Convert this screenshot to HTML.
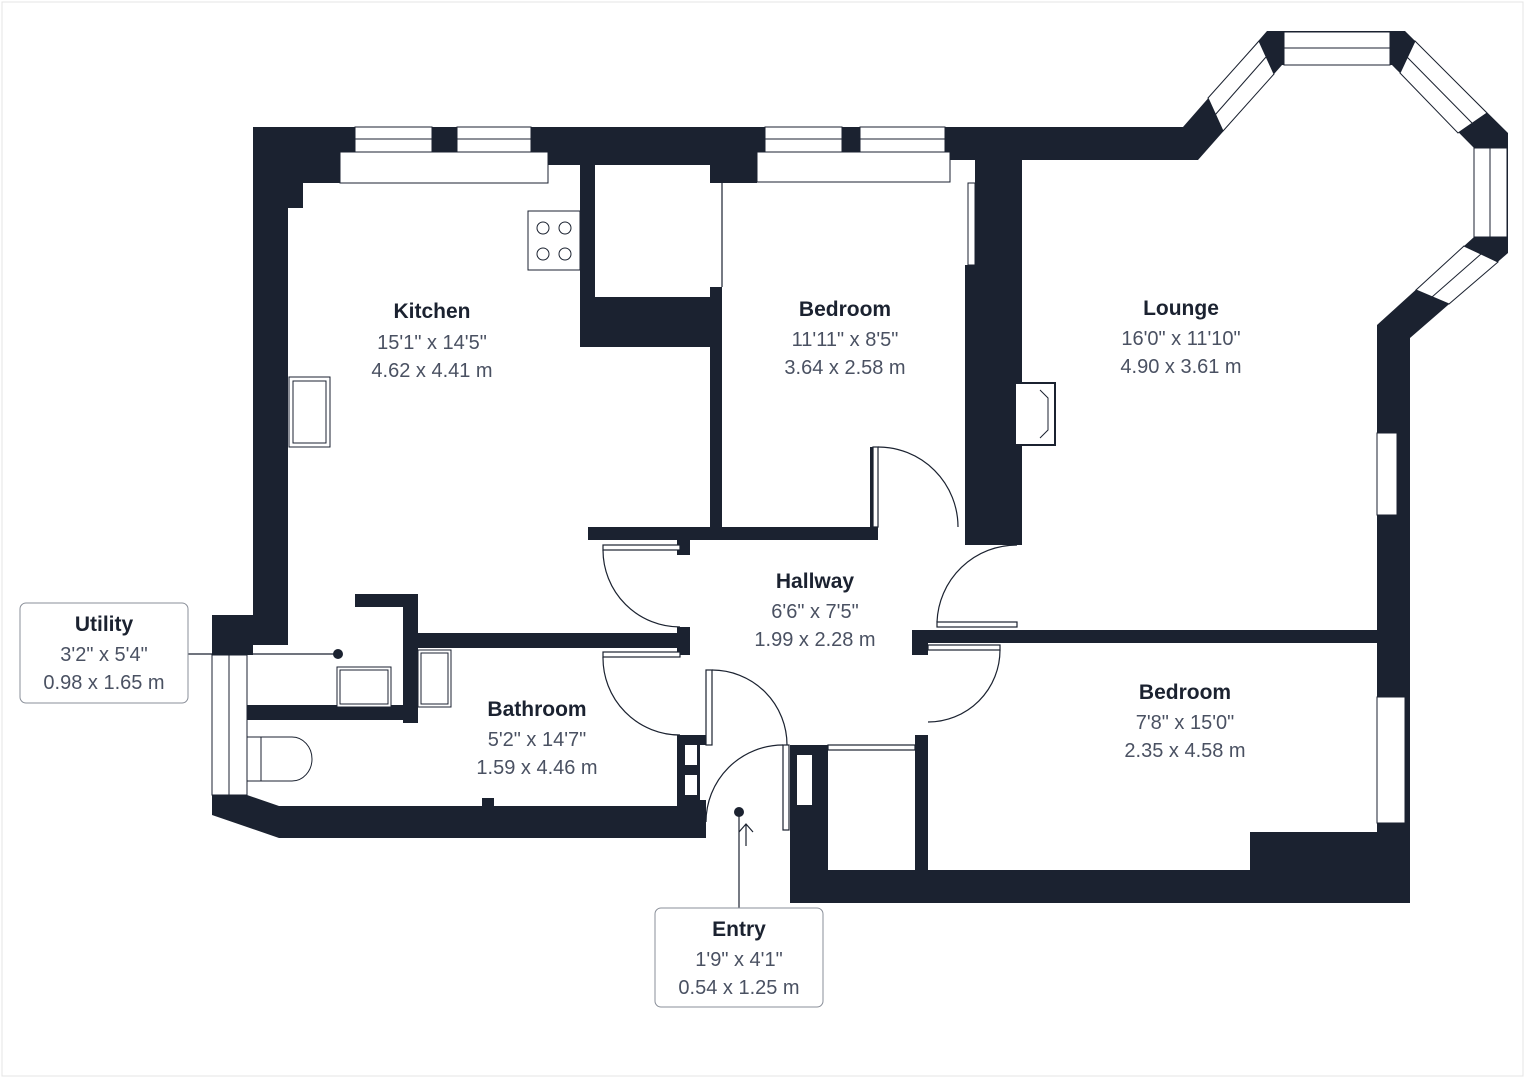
<!DOCTYPE html>
<html><head><meta charset="utf-8"><style>
html,body{margin:0;padding:0;background:#fff;}
svg{display:block;}
.t{font-family:"Liberation Sans",sans-serif;fill:#1b2230;font-weight:bold;font-size:21px;text-anchor:middle;}
.d{font-family:"Liberation Sans",sans-serif;fill:#4a5162;font-size:20px;text-anchor:middle;}
</style></head><body>
<svg width="1527" height="1080" viewBox="0 0 1527 1080" xmlns="http://www.w3.org/2000/svg">
<rect x="2" y="2" width="1521" height="1074" fill="#fff" stroke="#e4e4e4"/>
<g fill="#1b2230">
<rect x="253" y="127" width="937" height="28"/>
<rect x="253" y="155" width="87" height="28"/>
<rect x="548" y="155" width="47" height="10"/>
<rect x="595" y="155" width="127" height="10"/>
<rect x="710" y="155" width="47" height="28"/>
<rect x="950" y="155" width="72" height="5"/>
<rect x="1022" y="155" width="176" height="5"/>
<rect x="253" y="127" width="35" height="518"/>
<rect x="288" y="183" width="15" height="25"/>
<rect x="580" y="165" width="15" height="132"/>
<rect x="580" y="297" width="130" height="50"/>
<rect x="710" y="287" width="12" height="240"/>
<rect x="975" y="160" width="47" height="385"/>
<rect x="965" y="265" width="12" height="280"/>
<rect x="1377" y="325" width="33" height="578"/>
<rect x="790" y="870" width="620" height="33"/>
<rect x="1250" y="832" width="160" height="40"/>
<rect x="912" y="630" width="468" height="13"/>
<rect x="912" y="630" width="16" height="25"/>
<rect x="915" y="735" width="13" height="135"/>
<rect x="790" y="745" width="35" height="158"/>
<rect x="820" y="745" width="8" height="125"/>
<rect x="588" y="527" width="282" height="13"/>
<rect x="870" y="447" width="8" height="93"/>
<rect x="677" y="540" width="13" height="15"/>
<rect x="677" y="627" width="13" height="28"/>
<rect x="415" y="633" width="275" height="15"/>
<rect x="355" y="594" width="63" height="13"/>
<rect x="403" y="594" width="15" height="129"/>
<rect x="212" y="705" width="206" height="15"/>
<rect x="212" y="615" width="41" height="40"/>
<polygon points="212,795 247,795 279,806 706,806 706,838 279,838 212,815"/>
<rect x="677" y="735" width="29" height="103"/>
<rect x="482" y="798" width="12" height="10"/>
<polygon points="1183,127 1267,31 1405,31 1508,133 1508,253 1410,338 1410,360 1377,360 1377,325 1474,237 1474,148 1392,65 1282,65 1198,160 1183,160"/>
</g>
<g fill="#fff">
<rect x="700" y="745" width="6" height="55"/>
<rect x="797" y="755" width="15" height="50"/>
<rect x="685" y="745" width="12" height="20"/>
<rect x="685" y="775" width="12" height="20"/>
</g>
<g fill="#fff" stroke="#1b2230" stroke-width="1">
<rect x="355" y="127" width="77" height="25"/><line x1="355" y1="139" x2="432" y2="139"/>
<rect x="457" y="127" width="74" height="25"/><line x1="457" y1="139" x2="531" y2="139"/>
<rect x="340" y="152" width="208" height="31"/>
<rect x="765" y="127" width="77" height="25"/><line x1="765" y1="139" x2="842" y2="139"/>
<rect x="860" y="127" width="85" height="25"/><line x1="860" y1="139" x2="945" y2="139"/>
<rect x="757" y="152" width="193" height="30"/>
<rect x="968" y="183" width="7" height="82"/>
<rect x="1284" y="32" width="106" height="33"/><line x1="1284" y1="48" x2="1390" y2="48"/>
<rect x="1474" y="148" width="33" height="89"/><line x1="1490" y1="148" x2="1490" y2="237"/>
<polygon points="1208,98 1259,41 1274,74 1223,131"/><line x1="1215" y1="115" x2="1266" y2="57"/>
<polygon points="1415,41 1487,113 1458,133 1400,73"/><line x1="1407" y1="57" x2="1472" y2="123"/>
<polygon points="1498,262 1449,304 1416,290 1464,246"/><line x1="1481" y1="254" x2="1432" y2="297"/>
<rect x="1377" y="433" width="20" height="82"/>
<rect x="1377" y="697" width="28" height="126"/>
<rect x="212" y="655" width="35" height="140"/><line x1="229" y1="655" x2="229" y2="795"/>
<rect x="1015" y="383" width="40" height="62" stroke-width="2"/>
<path d="M1040,390 L1048,398 V430 L1040,438" fill="none"/>
<rect x="528" y="211" width="52" height="59"/>
<circle cx="543" cy="228" r="6"/><circle cx="565" cy="228" r="6"/><circle cx="543" cy="254" r="6"/><circle cx="565" cy="254" r="6"/>
<rect x="289" y="377" width="41" height="70"/><rect x="293" y="381" width="33" height="62"/>
<rect x="418" y="650" width="33" height="57"/><rect x="421" y="653" width="27" height="51"/>
<rect x="337" y="667" width="54" height="40"/><rect x="340" y="670" width="48" height="34"/>
<path d="M247,781 L292,781 A20,22 0 0 0 292,737 L247,737 Z"/><line x1="261" y1="737" x2="261" y2="781"/>
</g>
<g fill="none" stroke="#1b2230" stroke-width="1.2">
<rect x="873" y="447" width="5" height="80" fill="#fff"/>
<path d="M878,447 A80,80 0 0 1 958,527"/>
<rect x="937" y="622" width="80" height="5" fill="#fff"/>
<path d="M937,622 A80,80 0 0 1 1017,545"/>
<rect x="603" y="545" width="77" height="5" fill="#fff"/>
<path d="M603,550 A77,77 0 0 0 680,627"/>
<rect x="603" y="652" width="77" height="5" fill="#fff"/>
<path d="M603,657 A77,77 0 0 0 680,735"/>
<rect x="928" y="645" width="72" height="5" fill="#fff"/>
<path d="M1000,650 A72,72 0 0 1 928,722"/>
<rect x="706" y="670" width="6" height="75" fill="#fff"/>
<path d="M712,670 A75,75 0 0 1 787,745"/>
<rect x="783" y="745" width="6" height="85" fill="#fff"/>
<path d="M783,745 A77,77 0 0 0 706,822"/>
<rect x="828" y="745" width="87" height="5" fill="#fff"/>
<line x1="722" y1="183" x2="722" y2="287"/>
<line x1="188" y1="654" x2="338" y2="654"/>
<line x1="739" y1="908" x2="739" y2="812"/>
<path d="M739,832 L746,824 L753,832 M746,824 V846"/>
</g>
<circle cx="338" cy="654" r="5" fill="#1b2230"/>
<circle cx="739" cy="812" r="5" fill="#1b2230"/>
<text class="t" x="432" y="318">Kitchen</text>
<text class="d" x="432" y="349">15'1" x 14'5"</text>
<text class="d" x="432" y="377">4.62 x 4.41 m</text>
<text class="t" x="845" y="316">Bedroom</text>
<text class="d" x="845" y="346">11'11" x 8'5"</text>
<text class="d" x="845" y="374">3.64 x 2.58 m</text>
<text class="t" x="1181" y="315">Lounge</text>
<text class="d" x="1181" y="345">16'0" x 11'10"</text>
<text class="d" x="1181" y="373">4.90 x 3.61 m</text>
<text class="t" x="815" y="588">Hallway</text>
<text class="d" x="815" y="618">6'6" x 7'5"</text>
<text class="d" x="815" y="646">1.99 x 2.28 m</text>
<text class="t" x="1185" y="699">Bedroom</text>
<text class="d" x="1185" y="729">7'8" x 15'0"</text>
<text class="d" x="1185" y="757">2.35 x 4.58 m</text>
<text class="t" x="537" y="716">Bathroom</text>
<text class="d" x="537" y="746">5'2" x 14'7"</text>
<text class="d" x="537" y="774">1.59 x 4.46 m</text>
<rect x="20" y="603" width="168" height="100" rx="6" fill="#fff" stroke="#8a8f99"/>
<text class="t" x="104" y="631">Utility</text>
<text class="d" x="104" y="661">3'2" x 5'4"</text>
<text class="d" x="104" y="689">0.98 x 1.65 m</text>
<rect x="655" y="908" width="168" height="99" rx="6" fill="#fff" stroke="#8a8f99"/>
<text class="t" x="739" y="936">Entry</text>
<text class="d" x="739" y="966">1'9" x 4'1"</text>
<text class="d" x="739" y="994">0.54 x 1.25 m</text>
</svg>
</body></html>
